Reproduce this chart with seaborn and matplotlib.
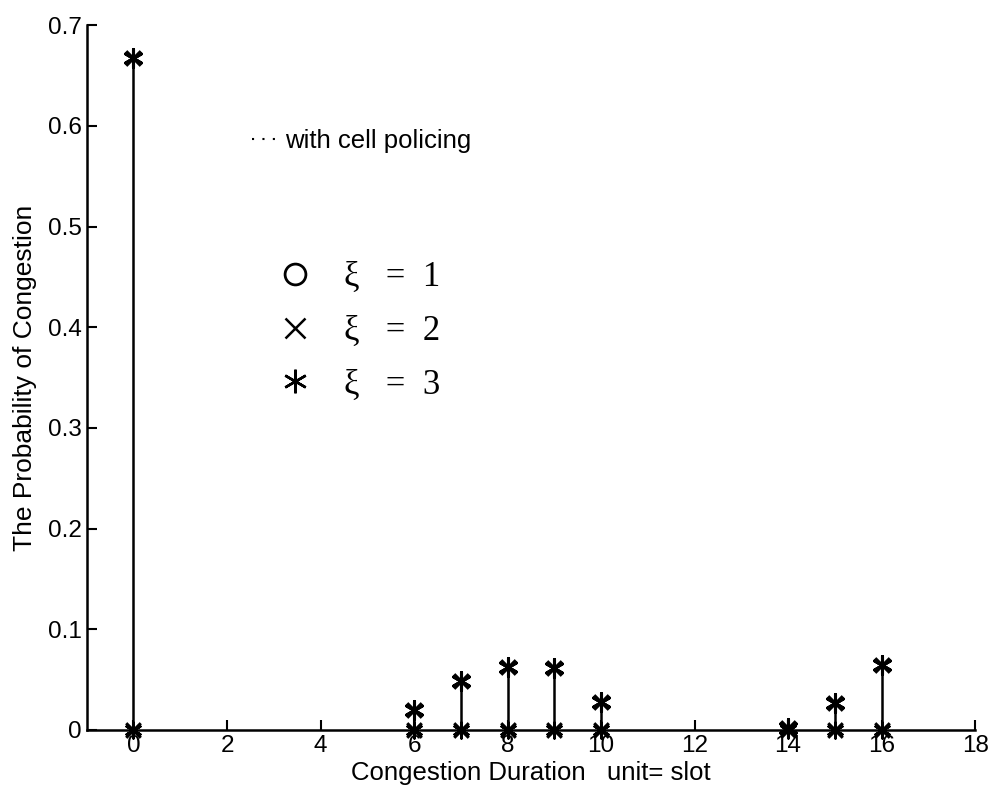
import numpy as np
import pandas as pd
import seaborn as sns
import matplotlib.pyplot as plt
from matplotlib.lines import Line2D

# %% data
durations = [0, 6, 7, 8, 9, 10, 14, 15, 16]
prob_xi3 = [0.667, 0.020, 0.049, 0.063, 0.062, 0.028, 0.002, 0.027, 0.065]
prob_xi2 = [0, 0, 0, 0, 0, 0, 0, 0, 0]
x_ticks = [0, 2, 4, 6, 8, 10, 12, 14, 16, 18]
y_ticks = [0, 0.1, 0.2, 0.3, 0.4, 0.5, 0.6, 0.7]
legend_labels = ['ξ   =  1', 'ξ   =  2', 'ξ   =  3']

df3 = pd.DataFrame({'Duration': durations, 'Prob': prob_xi3})
df2 = pd.DataFrame({'Duration': durations, 'Prob': prob_xi2})

# %% style
sns.set_style('ticks')
plt.rcParams['font.family'] = ['Liberation Sans', 'DejaVu Sans']
plt.rcParams['xtick.direction'] = 'in'
plt.rcParams['ytick.direction'] = 'in'
plt.rcParams['text.color'] = 'black'
plt.rcParams['axes.labelcolor'] = 'black'

fig = plt.figure(figsize=(9.97, 8.0), dpi=100)
ax = fig.add_axes([0.087, 0.0875, 0.891, 0.881])

asterisk = (6, 2, 0)

# stems for xi=3
ax.vlines(df3['Duration'], 0, df3['Prob'], color='black', linewidth=1.8, zorder=2)
for d, mk, sz, lw in [(df3, asterisk, 170, 2.2), (df3, 'x', 110, 2.2),
                      (df2, 'x', 110, 2.2), (df2, asterisk, 130, 1.8)]:
    sns.scatterplot(data=d, x='Duration', y='Prob', marker=mk, s=sz, color='black',
                    linewidth=lw, edgecolor='black', ax=ax, zorder=3, clip_on=False)

ax.set_xlim(-1, 18)
ax.set_ylim(0, 0.7)
ax.set_xticks(x_ticks)
ax.set_yticks(y_ticks)
ax.set_yticklabels(['0', '0.1', '0.2', '0.3', '0.4', '0.5', '0.6', '0.7'])
ax.tick_params(labelsize=17.5, length=7, width=1.5, colors='black')
for s in ['left', 'bottom']:
    ax.spines[s].set_linewidth(1.8)
    ax.spines[s].set_color('black')
sns.despine(ax=ax)

ax.set_xlabel('Congestion Duration   unit= slot', fontsize=18.5, labelpad=3)
ax.set_ylabel('The Probability of Congestion', fontsize=19, labelpad=8)

# %% legend, drawn without a frame
handles = [
    Line2D([], [], linestyle='none', marker='o', markersize=15, markerfacecolor='none',
           markeredgecolor='black', markeredgewidth=2),
    Line2D([], [], linestyle='none', marker='x', markersize=15, color='black', markeredgewidth=1.8),
    Line2D([], [], linestyle='none', marker=asterisk, markersize=17, color='black', markeredgewidth=1.8),
]
leg = ax.legend(handles, legend_labels, loc='upper left', bbox_to_anchor=(0.18, 0.71),
                frameon=False, handlelength=1.0, handletextpad=0.9, labelspacing=0.6,
                prop={'family': 'Liberation Serif', 'size': 25})
ax.add_artist(leg)

note = ax.legend([Line2D([], [], color='black', linestyle=(0, (1, 4)), linewidth=1.5)],
                 ['with cell policing'], loc='upper left', bbox_to_anchor=(0.16, 0.885),
                 frameon=False, handlelength=1.0, handletextpad=0.3, fontsize=18.5)

fig.savefig('out.png', dpi=100, facecolor='white')
